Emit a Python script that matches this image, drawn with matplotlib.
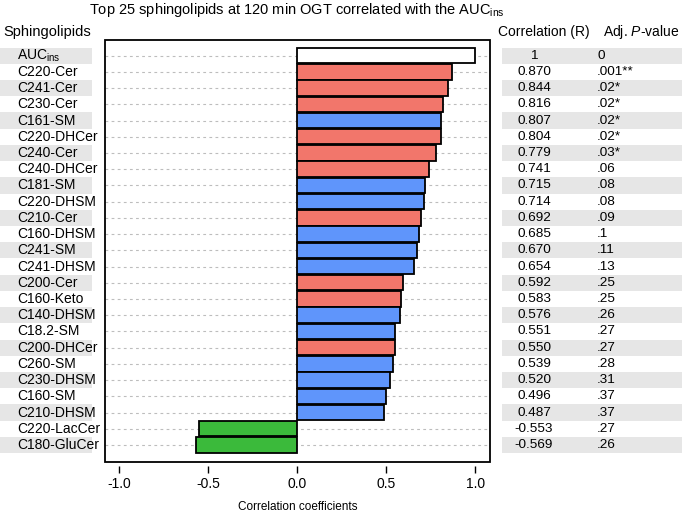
import matplotlib
matplotlib.use('Agg')
import matplotlib.pyplot as plt
import matplotlib.transforms as mtransforms
from matplotlib.patches import Rectangle

plt.rcParams['font.family'] = ['Liberation Sans', 'DejaVu Sans']
plt.rcParams['mathtext.fontset'] = 'custom'
plt.rcParams['mathtext.rm'] = 'Liberation Sans'
plt.rcParams['mathtext.it'] = 'Liberation Sans:italic'
plt.rcParams['axes.unicode_minus'] = False

lipids = ['AUC$_\\mathrm{ins}$', 'C220-Cer', 'C241-Cer', 'C230-Cer', 'C161-SM', 'C220-DHCer',
          'C240-Cer', 'C240-DHCer', 'C181-SM', 'C220-DHSM', 'C210-Cer', 'C160-DHSM',
          'C241-SM', 'C241-DHSM', 'C200-Cer', 'C160-Keto', 'C140-DHSM', 'C18.2-SM',
          'C200-DHCer', 'C260-SM', 'C230-DHSM', 'C160-SM', 'C210-DHSM', 'C220-LacCer',
          'C180-GluCer']
r_values = [1, 0.870, 0.844, 0.816, 0.807, 0.804, 0.779, 0.741, 0.715, 0.714, 0.692,
            0.685, 0.670, 0.654, 0.592, 0.583, 0.576, 0.551, 0.550, 0.539, 0.520,
            0.496, 0.487, -0.553, -0.569]
p_labels = ['0', '.001**', '.02*', '.02*', '.02*', '.02*', '.03*', '.06', '.08', '.08',
            '.09', '.1', '.11', '.13', '.25', '.25', '.26', '.27', '.27', '.28', '.31',
            '.37', '.37', '.27', '.26']
classes = ['AUC', 'Cer', 'Cer', 'Cer', 'SM', 'Cer', 'Cer', 'Cer', 'SM', 'SM', 'Cer', 'SM',
           'SM', 'SM', 'Cer', 'Cer', 'SM', 'SM', 'Cer', 'SM', 'SM', 'SM', 'SM', 'Hex', 'Hex']
class_colors = {'AUC': 'white', 'Cer': '#F2766B', 'SM': '#5F95FB', 'Hex': '#3BBA3B'}

n = len(lipids)
ypos = list(range(n))

fig = plt.figure(figsize=(6.82, 5.12), dpi=100)
ax = fig.add_axes([0.154, 0.0977, 0.564, 0.824])

for y in ypos:
    ax.axhline(y, color='#bdbdbd', lw=0.8, ls=(0, (2.5, 3)), zorder=0)

ax.barh(ypos, r_values, height=0.95, color=[class_colors[c] for c in classes],
        edgecolor='black', linewidth=1.3, zorder=2)

ax.set_xlim(-1.08, 1.08)
ax.set_ylim(n - 1 + 1.05, -0.96)
ax.set_yticks([])
ax.set_xticks([-1.0, -0.5, 0.0, 0.5, 1.0])
ax.set_xticklabels(['-1.0', '-0.5', '0.0', '0.5', '1.0'], fontsize=10)
ax.tick_params(axis='x', direction='out', length=5, width=1, pad=3)
for s in ax.spines.values():
    s.set_visible(False)
ax.spines['bottom'].set_position(('outward', 3))
ax.add_patch(Rectangle((0, 0), 1, 1, transform=ax.transAxes, fill=False,
                       edgecolor='black', lw=1.3, zorder=5, clip_on=False))
ax.set_xlabel('Correlation coefficients', fontsize=8.5, labelpad=7)

trans = mtransforms.blended_transform_factory(fig.transFigure, ax.transData)
for i, y in enumerate(ypos):
    if i % 2 == 0:
        fig.patches.append(Rectangle((0, y - 0.5), 92 / 682, 1, transform=trans,
                                     facecolor='#e6e6e6', edgecolor='none', zorder=0))
        fig.patches.append(Rectangle((502 / 682, y - 0.5), 180 / 682, 1, transform=trans,
                                     facecolor='#e6e6e6', edgecolor='none', zorder=0))
    fig.text(17 / 682, y, lipids[i], transform=trans, ha='left', va='center', fontsize=10)
    r_txt = '1' if i == 0 else '%.3f' % r_values[i]
    fig.text(534 / 682, y, r_txt, transform=trans, ha='center', va='center', fontsize=9.7)
    fig.text(597 / 682, y, p_labels[i], transform=trans, ha='left', va='center', fontsize=9.7)

fig.text(3 / 682, 1 - 32 / 512, 'Sphingolipids', ha='left', va='center', fontsize=10.5)
fig.text(498 / 682, 1 - 32 / 512, 'Correlation (R)', ha='left', va='center', fontsize=10)
fig.text(603 / 682, 1 - 32 / 512, 'Adj. $\\it{P}$-value', ha='left', va='center', fontsize=10)
fig.text(297 / 682, 1 - 10 / 512, 'Top 25 sphingolipids at 120 min OGT correlated with the AUC$_\\mathrm{ins}$',
         ha='center', va='center', fontsize=10.5)

fig.savefig('out.png', dpi=100)
